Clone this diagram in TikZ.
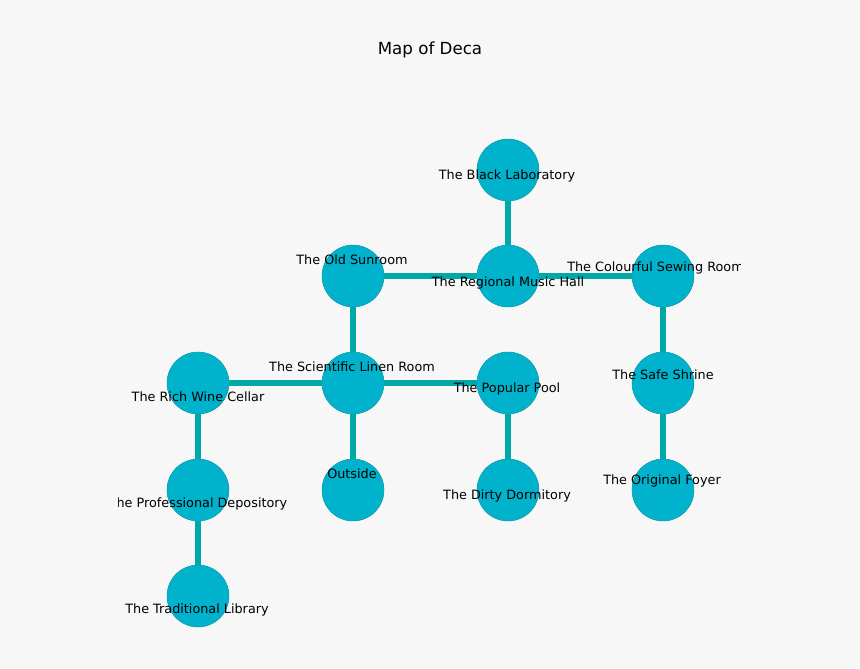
\documentclass[tikz,border=0pt]{standalone}
\usepackage{fontspec}
\setmainfont{DejaVu Sans}
\definecolor{bgcol}{HTML}{F7F7F7}
\definecolor{roomcol}{HTML}{00B2CC}
\definecolor{pathcol}{HTML}{00A8A8}
\begin{document}
\begin{tikzpicture}[x=0.75pt,y=-0.75pt]
\tikzstyle{room}=[circle,fill=roomcol,draw=pathcol!80!black,line width=0.3pt,minimum size=46.5pt,inner sep=0pt]
\tikzstyle{path}=[pathcol,line width=3.8pt]
\tikzstyle{lbl}=[inner sep=0pt,font=\fontsize{9.6}{11}\selectfont]
\fill [bgcol] (0,0) rectangle (860,668);
\node (title) at (430,50) {\fontsize{12.5}{14}\selectfont Map of Deca};
\node [room] (black) at (508,170) {};
\node [room] (regional) at (508,276) {};
\node [room] (sunroom) at (353,276) {};
\node [room] (sewing) at (663,276) {};
\node [room] (linen) at (353,383) {};
\node [room] (pool) at (508,383) {};
\node [room] (shrine) at (663,383) {};
\node [room] (wine) at (198,383) {};
\node [room] (outside) at (353,490) {};
\node [room] (dormitory) at (508,490) {};
\node [room] (foyer) at (663,490) {};
\node [room] (depository) at (198,490) {};
\node [room] (library) at (198,596) {};
\begin{scope}[on background layer/.try]
\end{scope}
\draw [path] (black) -- (regional);
\draw [path] (sunroom) -- (regional);
\draw [path] (regional) -- (sewing);
\draw [path] (sunroom) -- (linen);
\draw [path] (wine) -- (linen);
\draw [path] (linen) -- (pool);
\draw [path] (linen) -- (outside);
\draw [path] (pool) -- (dormitory);
\draw [path] (sewing) -- (shrine);
\draw [path] (shrine) -- (foyer);
\draw [path] (wine) -- (depository);
\draw [path] (depository) -- (library);
% redraw rooms above the paths
\foreach \r in {black,regional,sunroom,sewing,linen,pool,shrine,wine,outside,dormitory,foyer,depository,library}
  \fill [roomcol] (\r) circle (23pt);
\begin{scope}
\clip (118,0) rectangle (740,668);
\node [lbl] (blacklbl) at (507,176) {The Black Laboratory};
\node [lbl] (regionallbl) at (508,283) {The Regional Music Hall};
\node [lbl] (sunroomlbl) at (352,260) {The Old Sunroom};
\node [lbl,anchor=west] (sewinglbl) at (567,268) {The Colourful Sewing Room};
\node [lbl] (linenlbl) at (352,367) {The Scientific Linen Room};
\node [lbl] (poollbl) at (507,389) {The Popular Pool};
\node [lbl] (shrinelbl) at (663,375) {The Safe Shrine};
\node [lbl] (winelbl) at (198,397) {The Rich Wine Cellar};
\node [lbl] (outsidelbl) at (352,474) {Outside};
\node [lbl] (dormitorylbl) at (507,496) {The Dirty Dormitory};
\node [lbl] (foyerlbl) at (662,481) {The Original Foyer};
\node [lbl] (depositorylbl) at (198,504) {The Professional Depository};
\node [lbl] (librarylbl) at (197,610) {The Traditional Library};
\end{scope}
\end{tikzpicture}
\end{document}
